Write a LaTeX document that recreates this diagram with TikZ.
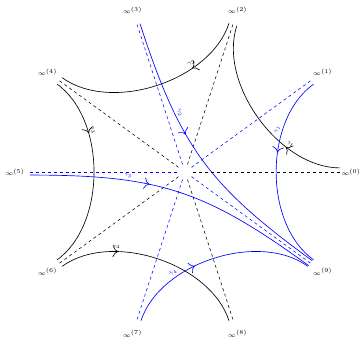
\documentclass[tikz,border=0pt]{standalone}
\usetikzlibrary{arrows.meta,decorations.markings}
\begin{document}
\begin{tikzpicture}[x=1pt,y=1pt,
  blk/.style={line width=0.65pt,black},
  blu/.style={line width=0.65pt,blue},
  bdash/.style={dashed,line width=0.55pt,black},
  ldash/.style={dashed,line width=0.55pt,blue},
  lab/.style={font=\tiny,inner sep=1pt},
  inf/.style={font=\tiny,inner sep=1pt,scale=1.2},
  arr/.style={postaction={decorate},decoration={markings,mark=at position #1 with {\arrow{To[scale=1.8]}}}}]
\useasboundingbox (-185,-168) rectangle (177,172);
% direction labels and rays
\foreach \k/\rr in {0/166,1/170,2/170,3/170,4/170,5/170,6/170,7/170,8/170,9/170}{
  \node[inf] (i\k) at (\k*36:\rr) {$\infty^{(\k)}$};
  \coordinate (s\k) at (\k*36:8);
  \coordinate (e\k) at (\k*36:157);
}
\foreach \k in {0,2,4,6,8}{\draw[bdash] (s\k) -- (e\k);}
\foreach \k in {1,3,5,7,9}{\draw[ldash] (s\k) -- (e\k);}
% black curves gamma_k
\foreach \k/\r in {1/36,2/108,3/180,4/252}{
  \begin{scope}[rotate=\r]
    \coordinate (ga\k) at (127.8,-87.8);
    \coordinate (gc\k) at (78.7,-52.1);
    \coordinate (gd\k) at (78.7,52.1);
    \coordinate (gb\k) at (127.8,87.8);
  \end{scope}
  \draw[blk,arr=0.3] (ga\k) .. controls (gc\k) and (gd\k) .. (gb\k)
     node[lab,pos=0.3,sloped,above=1.5pt] {$\gamma_{\k}$};
}
% blue curves tilde gamma
\begin{scope}[rotate=0]
  \coordinate (ta1) at (128.5,87.8);
  \coordinate (tc1) at (78.7,52.1);
  \coordinate (td1) at (78.7,-52.1);
  \coordinate (tb1) at (128.5,-87.8);
\end{scope}
\begin{scope}[rotate=36]
  \coordinate (ta2) at (50.8,146.5);
  \coordinate (tc2) at (11.1,24.2);
  \coordinate (td2) at (11.1,-24.2);
  \coordinate (tb2) at (50.8,-146.5);
\end{scope}
\begin{scope}[rotate=252]
  \coordinate (ta3) at (50.8,-146.5);
  \coordinate (tc3) at (11.1,-24.2);
  \coordinate (td3) at (11.1,24.2);
  \coordinate (tb3) at (50.8,146.5);
\end{scope}
\begin{scope}[rotate=288]
  \coordinate (ta4) at (127.8,-87.8);
  \coordinate (tc4) at (78.7,-52.1);
  \coordinate (td4) at (78.7,52.1);
  \coordinate (tb4) at (127.8,87.8);
\end{scope}
\foreach \k in {1,2,3,4}{
  \draw[blu,arr=0.4] (ta\k) .. controls (tc\k) and (td\k) .. (tb\k)
     node[lab,pos=0.3,sloped,above=1.5pt] {$\tilde\gamma_{\k}$};
}
\end{tikzpicture}
\end{document}
